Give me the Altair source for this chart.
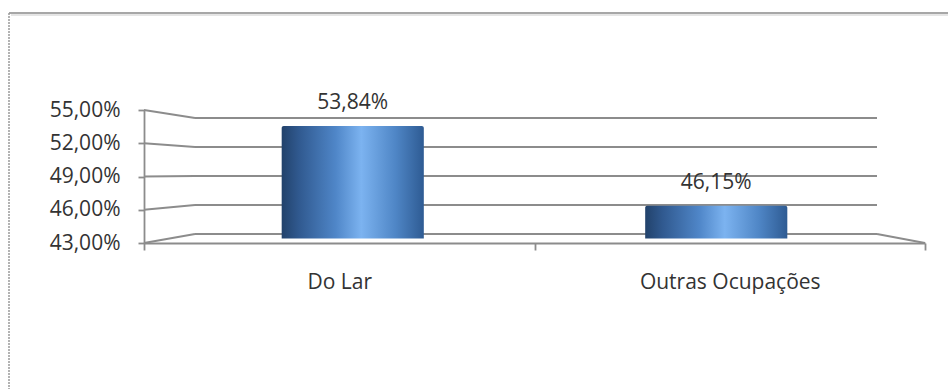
import altair as alt
import pandas as pd

# ---- data ----
categories = ["Do Lar", "Outras Ocupações"]
values = [53.84, 46.15]
tick_values = [43, 46, 49, 52, 55]
y_domain = [43, 55]

cat_df = pd.DataFrame({"cat": categories, "val": values})
tick_df = pd.DataFrame({"t": tick_values})
one = pd.DataFrame({"k": [0]})

# ---- layout / pseudo-3D style constants (pixels inside the plot area) ----
PW, PH = 781, 170
PAD = {"left": 144, "top": 90, "right": 948 - 144 - PW, "bottom": 389 - 90 - PH}
FRONT = [153, 20]    # front plane (value axis)
MID = [148.5, 24]    # plane of the bars
BACK = [144, 28]     # back wall gridlines
BACK_X = [51, 733]
FONT = "Open Sans"
GRID = "#8c8c8c"
TXT = "#333333"

front_k = (FRONT[0] - FRONT[1]) / (y_domain[1] - y_domain[0])
back_k = (BACK[0] - BACK[1]) / (y_domain[1] - y_domain[0])
# value on the back scale that lands where the front-plane tick is
u_expr = f"{y_domain[0]} + ({BACK[0]} - ({FRONT[0]} - (datum.t - {y_domain[0]}) * {front_k})) / {back_k}"

back_scale = alt.Scale(domain=y_domain, range=BACK, zero=False)
lab_expr = "replace(format(datum.value, '.2f'), '.', ',') + '%'"

frame_top = alt.Chart(one).mark_rule(color="#8a8a8a", strokeWidth=1.5).encode(
    x=alt.value(-135), x2=alt.value(PW + 40), y=alt.value(-77))
frame_top2 = alt.Chart(one).mark_rule(color="#dcdcdc", strokeWidth=1.5).encode(
    x=alt.value(-133), x2=alt.value(PW + 40), y=alt.value(-75))
frame_left = alt.Chart(one).mark_rule(color="#9a9a9a", strokeWidth=1.5, strokeDash=[2, 1]).encode(
    x=alt.value(-135), y=alt.value(-77), y2=alt.value(PH + PAD["bottom"] + 5))

back_grid = alt.Chart(tick_df).mark_rule(color=GRID, strokeWidth=1.8).encode(
    y=alt.Y("t:Q", scale=back_scale, axis=None),
    x=alt.value(BACK_X[0]), x2=alt.value(BACK_X[1]))

connectors = alt.Chart(tick_df).transform_calculate(u=u_expr).mark_rule(
    color=GRID, strokeWidth=1.8).encode(
    y=alt.Y("u:Q", scale=back_scale, axis=None), y2="t:Q",
    x=alt.value(0), x2=alt.value(BACK_X[0]))

right_edge = alt.Chart(tick_df).transform_filter(f"datum.t == {y_domain[0]}").transform_calculate(
    u=u_expr).mark_rule(color=GRID, strokeWidth=1.8).encode(
    y=alt.Y("u:Q", scale=back_scale, axis=None), y2="t:Q",
    x=alt.value(PW), x2=alt.value(BACK_X[1]))

front_y = alt.Chart(tick_df).mark_point(opacity=0).encode(
    y=alt.Y("t:Q", scale=alt.Scale(domain=y_domain, range=FRONT, zero=False),
            axis=alt.Axis(values=tick_values, labelExpr=lab_expr, title=None, grid=False,
                          domainColor=GRID, domainWidth=1.8, tickColor=GRID, tickWidth=1.8,
                          tickSize=6, labelPadding=18, labelFont=FONT, labelFontSize=21,
                          labelColor=TXT)))

front_x = alt.Chart(cat_df).mark_point(opacity=0).encode(
    x=alt.X("cat:N", sort=categories,
            scale=alt.Scale(range=[0, PW], paddingInner=0, paddingOuter=0),
            axis=alt.Axis(title=None, offset=-(PH - FRONT[0]), tickBand="extent", labelAngle=0,
                          domainColor=GRID, domainWidth=1.8, tickColor=GRID, tickWidth=1.8,
                          tickSize=7, labelPadding=21, labelFont=FONT, labelFontSize=21,
                          labelColor=TXT, labelLimit=0)))

bar_gradient = alt.Gradient(
    gradient="linear", x1=0, x2=1, y1=0, y2=0,
    stops=[alt.GradientStop(color="#22426b", offset=0),
           alt.GradientStop(color="#30598f", offset=0.12),
           alt.GradientStop(color="#4f86c8", offset=0.38),
           alt.GradientStop(color="#7cb3f0", offset=0.56),
           alt.GradientStop(color="#4f86c6", offset=0.8),
           alt.GradientStop(color="#2e5b93", offset=1)])

mid_x = alt.Scale(range=[27, 754], paddingInner=0.609, paddingOuter=0.3045)
mid_y = alt.Scale(domain=y_domain, range=MID, zero=False)

bars = alt.Chart(cat_df).mark_bar(color=bar_gradient, cornerRadiusTopLeft=2,
                                  cornerRadiusTopRight=2).encode(
    x=alt.X("cat:N", sort=categories, scale=mid_x, axis=None),
    y=alt.Y("val:Q", scale=mid_y, axis=None),
    y2=alt.datum(y_domain[0]))

labels = alt.Chart(cat_df).transform_calculate(
    lab="replace(format(datum.val, '.2f'), '.', ',') + '%'").mark_text(
    font=FONT, fontSize=21, color=TXT, baseline="middle", dy=-23).encode(
    x=alt.X("cat:N", sort=categories, scale=mid_x, axis=None),
    y=alt.Y("val:Q", scale=mid_y, axis=None),
    text="lab:N")

chart = alt.layer(
    frame_top, frame_top2, frame_left, back_grid, connectors, right_edge,
    front_y, front_x, bars, labels
).resolve_scale(x="independent", y="independent").properties(
    width=PW, height=PH, padding=PAD, autosize=alt.AutoSizeParams(type="none"),
    background="white"
).configure_view(stroke=None)

chart.save("out.html", embed_options={"renderer": "svg", "actions": False})
